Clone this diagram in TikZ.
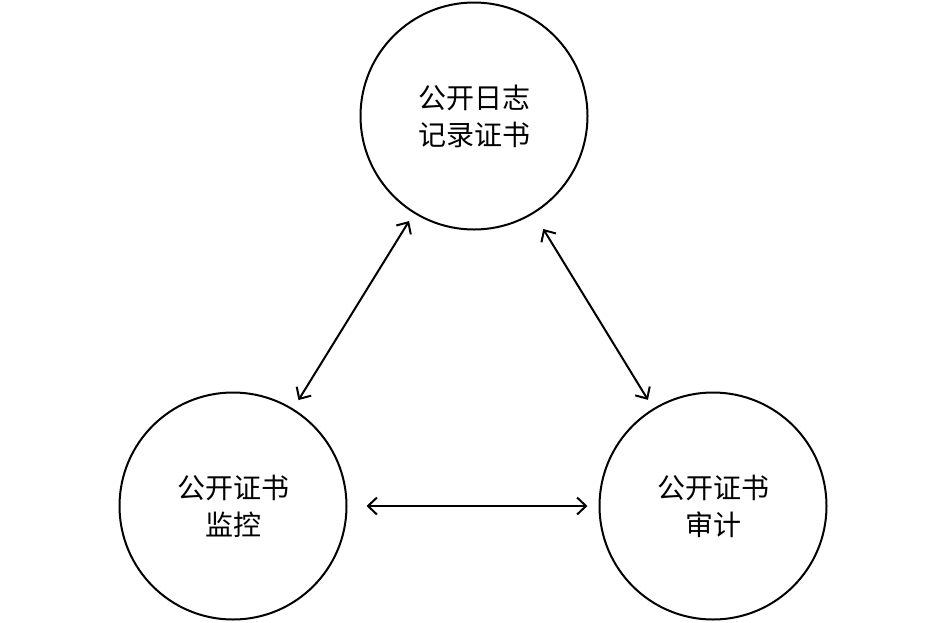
\documentclass[tikz,border=0pt]{standalone}
\usepackage{fontspec}
\newfontfamily\cjk{Noto Sans CJK SC}
\usetikzlibrary{shapes,calc,arrows.meta}

\begin{document}
\begin{tikzpicture}
[x=1pt,y=-1pt,every node/.style={shape=circle,inner
	sep=1pt,draw,line width=2pt,minimum size=227pt,align=center,
	font=\cjk\fontsize{28}{37}\selectfont}]
\useasboundingbox (0,0) rectangle (945,622);
\node (log) at (474,116) {公开日志\\记录证书};
\node (mon) at (233,506) {公开证书\\监控};
\node (aud) at (713,506) {公开证书\\审计};

\path
\foreach \startNode/\endNode/\gapA/\gapB in {mon/log/10/9,log/aud/18/10,mon/aud/19/11}
{
	(\startNode) edge[{Straight Barb[length=9pt,width=17pt]}-{Straight Barb[length=9pt,width=17pt]},
	line width=2pt,shorten <=\gapA pt,shorten >=\gapB pt] (\endNode)
};
\end{tikzpicture}
\end{document}
